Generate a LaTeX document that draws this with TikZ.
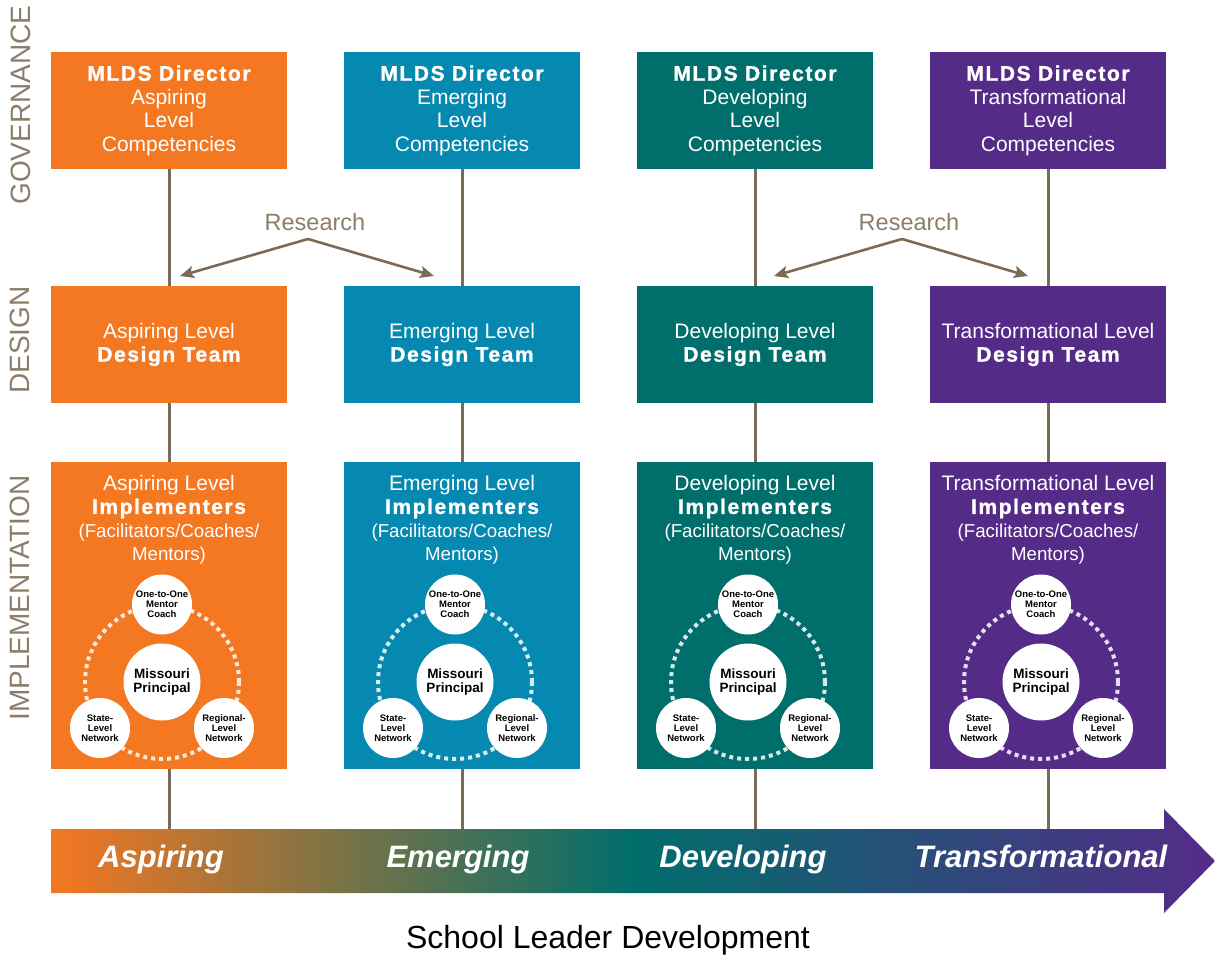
\documentclass[tikz,border=0pt]{standalone}
\usepackage{fontspec}
\setmainfont{Liberation Sans}
\newfontfamily\wideb{Liberation Sans}[LetterSpace=7.5, FakeBold=1.2]
\usetikzlibrary{arrows.meta}
\definecolor{corange}{HTML}{F47721}
\definecolor{cblue}{HTML}{0589B0}
\definecolor{cteal}{HTML}{006E6B}
\definecolor{cpurple}{HTML}{552B88}
\definecolor{cline}{HTML}{7B6A57}
\definecolor{clabel}{HTML}{8C7D6B}
\pgfdeclarehorizontalshading{levelshade}{100bp}{color(0bp)=(corange); color(25bp)=(corange); color(50bp)=(cteal); color(75bp)=(cpurple); color(100bp)=(cpurple)}
\tikzset{
  boxbase/.style={draw=none, inner sep=0pt, text=white, align=center, minimum width=236pt,
    font=\fontsize{21}{23.5}\selectfont},
  govbox/.style={boxbase, minimum height=117pt},
  desbox/.style={boxbase, minimum height=117pt},
  impbox/.style={boxbase, minimum height=307pt},
  imptext/.style={inner sep=0pt, text=white, align=center, font=\fontsize{21}{23.5}\selectfont},
  bigc/.style={circle, fill=white, inner sep=0pt, minimum size=77pt, align=center,
    font=\fontsize{13.5}{14.5}\selectfont\bfseries},
  smallc/.style={circle, fill=white, inner sep=0pt, minimum size=60pt, align=center,
    font=\fontsize{9.5}{9.8}\selectfont\bfseries},
  ring/.style={draw=white, draw opacity=0.85, line width=4pt, dash pattern=on 4pt off 4pt},
  conn/.style={draw=cline, line width=3pt},
  rarrow/.style={draw=cline, line width=2.6pt, -{Stealth[length=14pt, width=12pt, inset=3pt]}},
  research/.style={text=clabel, inner sep=0pt, font=\fontsize{23.5}{26}\selectfont},
  sidelabel/.style={text=clabel, inner sep=0pt, rotate=90, font=\fontsize{28}{30}\selectfont},
  lvllabel/.style={text=white, inner sep=0pt, anchor=base, font=\fontsize{31}{33}\selectfont\bfseries\itshape},
  axislabel/.style={text=black, inner sep=0pt, anchor=base, font=\fontsize{32}{34}\selectfont}
}
\begin{document}
\begin{tikzpicture}[x=1pt, y=-1pt]
\useasboundingbox (0,0) rectangle (1215,960);

% development arrow
\path[shading=levelshade] (51,829) -- (1164,829) -- (1164,809) -- (1215,861) -- (1164,913) -- (1164,893) -- (51,893) -- cycle;

% side labels
\node[sidelabel] (lgov) at (21,105) {GOVERNANCE};
\node[sidelabel] (ldes) at (20,340) {DESIGN};
\node[sidelabel] (limp) at (20,598) {IMPLEMENTATION};

\foreach \i/\x/\col/\lvl in {1/169/corange/Aspiring, 2/462/cblue/Emerging, 3/755/cteal/Developing, 4/1048/cpurple/Transformational}{
  \node[govbox, fill=\col] (g\i) at (\x,110.5) {{\wideb\bfseries MLDS Director}\\\lvl\\Level\\Competencies};
  \node[desbox, fill=\col] (d\i) at (\x,344.5) {\lvl{} Level\\{\wideb\bfseries Design Team}};
  \node[impbox, fill=\col] (m\i) at (\x,615.5) {};
  \node[imptext] (t\i) at (\x,520) {\lvl{} Level\\{\wideb\bfseries Implementers}\\{\fontsize{18.7}{23.5}\selectfont (Facilitators/Coaches/}\\{\fontsize{18.7}{23.5}\selectfont Mentors)}};
  \coordinate (ar\i) at (\x,829);
  \draw[conn] (g\i) -- (d\i);
  \draw[conn] (d\i) -- (m\i);
  \draw[conn] (m\i) -- (ar\i);
  \coordinate (rc\i) at (\x-7,682);
  \draw[ring] (rc\i) circle[radius=77pt];
  \node[bigc] (p\i) at (rc\i) {Missouri\\Principal};
  \node[smallc] (o\i) at (\x-7,604.5) {One-to-One\\Mentor\\Coach};
  \node[smallc] (s\i) at (\x-69,728) {State-\\Level\\Network};
  \node[smallc] (g\i r) at (\x+55,728) {Regional-\\Level\\Network};
}

% research arrows
\node[research] (r1) at (315,222) {Research};
\coordinate (r1a) at (308,239);
\coordinate (r1l) at (180,276);
\coordinate (r1r) at (434,276);
\draw[rarrow] (r1a) -- (r1l);
\draw[rarrow] (r1a) -- (r1r);
\node[research] (r2) at (909,222) {Research};
\coordinate (r2a) at (902,239);
\coordinate (r2l) at (774,276);
\coordinate (r2r) at (1028,276);
\draw[rarrow] (r2a) -- (r2l);
\draw[rarrow] (r2a) -- (r2r);

% level labels on the arrow
\node[lvllabel] (a1) at (161,867) {Aspiring};
\node[lvllabel] (a2) at (458,867) {Emerging};
\node[lvllabel] (a3) at (743,867) {Developing};
\node[lvllabel] (a4) at (1041,867) {Transformational};

\node[axislabel] (sld) at (608,948) {School Leader Development};
\end{tikzpicture}
\end{document}
